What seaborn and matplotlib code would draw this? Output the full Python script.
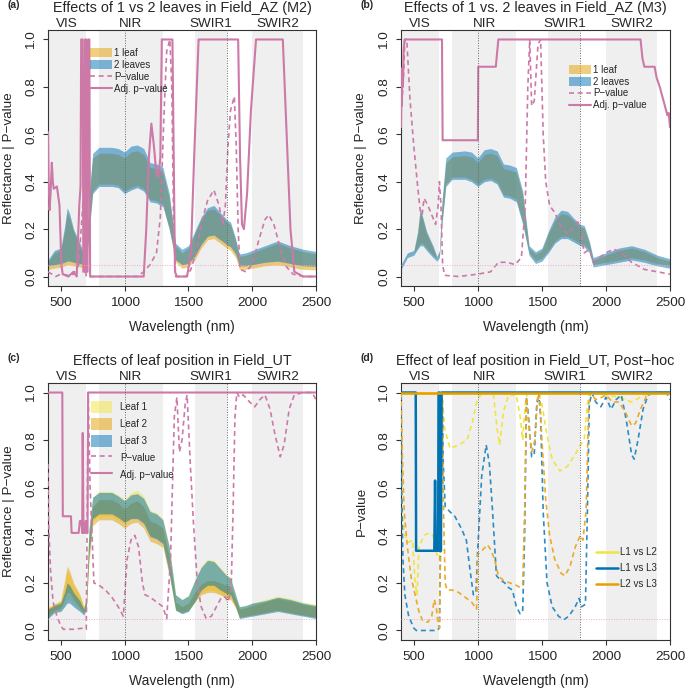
import numpy as np
import pandas as pd
import matplotlib
matplotlib.use('Agg')
import matplotlib.pyplot as plt
import seaborn as sns
from matplotlib.patches import Patch
from matplotlib.lines import Line2D

# ============================================================
# Data
# ============================================================
W = [400, 450, 500, 530, 550, 570, 600, 650, 680, 700,
     720, 750, 800, 900, 950, 1000, 1050, 1100, 1150, 1200,
     1250, 1300, 1350, 1400, 1450, 1500, 1550, 1600, 1650, 1700,
     1750, 1800, 1830, 1870, 1900, 1950, 2000, 2100, 2200, 2300,
     2400, 2500]

# ---- panel (a): Field_AZ M2 ----
A1_LO = [0.03, 0.035, 0.04, 0.045, 0.05, 0.05, 0.045, 0.04, 0.035, 0.05,
         0.18, 0.36, 0.39, 0.39, 0.385, 0.36, 0.375, 0.385, 0.37, 0.325,
         0.32, 0.305, 0.20, 0.06, 0.035, 0.04, 0.07, 0.12, 0.155, 0.16,
         0.14, 0.12, 0.11, 0.08, 0.03, 0.03, 0.035, 0.045, 0.05, 0.04,
         0.03, 0.028]
A1_HI = [0.06, 0.10, 0.11, 0.19, 0.27, 0.245, 0.19, 0.13, 0.09, 0.12,
         0.31, 0.50, 0.52, 0.52, 0.515, 0.50, 0.525, 0.53, 0.515, 0.46,
         0.455, 0.44, 0.33, 0.13, 0.10, 0.12, 0.18, 0.24, 0.28, 0.285,
         0.26, 0.23, 0.22, 0.15, 0.085, 0.09, 0.10, 0.12, 0.14, 0.12,
         0.105, 0.095]
A2_LO = [0.045, 0.05, 0.055, 0.06, 0.065, 0.065, 0.06, 0.055, 0.05, 0.065,
         0.17, 0.35, 0.38, 0.38, 0.375, 0.35, 0.365, 0.375, 0.36, 0.315,
         0.31, 0.295, 0.20, 0.07, 0.05, 0.055, 0.085, 0.135, 0.17, 0.175,
         0.155, 0.135, 0.125, 0.095, 0.045, 0.045, 0.05, 0.06, 0.065, 0.055,
         0.045, 0.043]
A2_HI = [0.07, 0.11, 0.12, 0.21, 0.29, 0.265, 0.20, 0.14, 0.10, 0.13,
         0.33, 0.52, 0.545, 0.545, 0.54, 0.525, 0.55, 0.555, 0.54, 0.48,
         0.475, 0.46, 0.35, 0.14, 0.115, 0.13, 0.19, 0.25, 0.29, 0.30,
         0.27, 0.24, 0.23, 0.16, 0.095, 0.10, 0.11, 0.13, 0.15, 0.13,
         0.115, 0.105]

PA_W = [400, 430, 460, 500, 560, 600, 640, 660, 675, 690, 700, 720, 1100, 1150,
        1200, 1250, 1280, 1310, 1330, 1355, 1370, 1385, 1400, 1480, 1520, 1560,
        1600, 1650, 1700, 1740, 1770, 1790, 1810, 1830, 1860, 1875, 1890, 1905,
        1950, 2000, 2050, 2100, 2130, 2170, 2220, 2270, 2320, 2400, 2500]
PA_P = [0.02, 0.01, 0.0, 0.01, 0.005, 0.01, 0.05, 0.20, 0.32, 0.05, 0.0, 0.0, 0.0, 0.02,
        0.05, 0.10, 0.25, 0.70, 0.95, 1.0, 0.80, 0.20, 0.0, 0.0, 0.03, 0.10,
        0.22, 0.32, 0.365, 0.30, 0.22, 0.30, 0.55, 0.70, 0.76, 0.55, 0.20, 0.03,
        0.02, 0.05, 0.15, 0.24, 0.26, 0.22, 0.12, 0.04, 0.01, 0.0, 0.0]
PA_ADJ_W = [400, 405, 412, 420, 430, 438, 445, 470, 490, 505, 515, 560, 600, 625,
            645, 655, 660, 672, 677, 685, 690, 698, 702, 710, 714, 724, 730, 1150,
            1170, 1190, 1210, 1230, 1250, 1265, 1280, 1292, 1375, 1395, 1410, 1490,
            1520, 1545, 1580, 1890, 1905, 1920, 1935, 1960, 1990, 2030, 2240, 2270,
            2300, 2330, 2400, 2500]
PA_ADJ = [0.61, 0.40, 0.28, 0.35, 0.48, 0.40, 0.37, 0.38, 0.30, 0.05, 0.01, 0.0, 0.02, 0.0,
          0.30, 0.38, 1.0, 1.0, 0.02, 0.02, 1.0, 1.0, 0.02, 0.02, 1.0, 1.0, 0.0, 0.0,
          0.20, 0.50, 0.645, 0.55, 0.43, 0.42, 0.50, 1.0, 1.0, 0.02, 0.0, 0.0,
          0.10, 0.50, 1.0, 1.0, 0.50, 0.22, 0.20, 0.35, 0.70, 1.0, 1.0, 0.60,
          0.20, 0.02, 0.0, 0.0]

# ---- panel (b): Field_AZ M3 ----
B1_LO = [0.042, 0.092, 0.10, 0.125, 0.14, 0.14, 0.12, 0.09, 0.077, 0.092,
         0.23, 0.39, 0.42, 0.42, 0.41, 0.39, 0.41, 0.415, 0.40, 0.345,
         0.34, 0.325, 0.23, 0.10, 0.067, 0.077, 0.11, 0.15, 0.17, 0.17,
         0.155, 0.14, 0.135, 0.11, 0.05, 0.055, 0.06, 0.07, 0.08, 0.07,
         0.055, 0.045]
B1_HI = [0.04, 0.09, 0.10, 0.18, 0.275, 0.24, 0.18, 0.12, 0.075, 0.10,
         0.30, 0.48, 0.505, 0.51, 0.505, 0.48, 0.515, 0.52, 0.51, 0.455,
         0.45, 0.44, 0.345, 0.12, 0.095, 0.11, 0.18, 0.235, 0.265, 0.26,
         0.235, 0.21, 0.205, 0.14, 0.07, 0.08, 0.09, 0.11, 0.12, 0.105,
         0.08, 0.065]
B2_LO = [0.03, 0.08, 0.09, 0.115, 0.13, 0.13, 0.11, 0.08, 0.065, 0.08,
         0.22, 0.38, 0.41, 0.41, 0.40, 0.38, 0.40, 0.405, 0.39, 0.335,
         0.33, 0.315, 0.22, 0.09, 0.055, 0.065, 0.10, 0.14, 0.16, 0.16,
         0.145, 0.13, 0.125, 0.10, 0.04, 0.045, 0.05, 0.06, 0.07, 0.06,
         0.045, 0.035]
B2_HI = [0.05, 0.10, 0.11, 0.19, 0.29, 0.25, 0.19, 0.13, 0.085, 0.11,
         0.32, 0.50, 0.525, 0.53, 0.525, 0.50, 0.535, 0.54, 0.53, 0.475,
         0.47, 0.46, 0.36, 0.13, 0.105, 0.12, 0.19, 0.25, 0.28, 0.275,
         0.245, 0.22, 0.215, 0.15, 0.08, 0.09, 0.10, 0.12, 0.13, 0.115,
         0.09, 0.075]

PB_W = [400, 410, 420, 430, 445, 470, 500, 530, 550, 565, 580, 610, 640, 670,
        690, 700, 712, 725, 740, 850, 1000, 1100, 1160, 1230, 1290, 1340, 1370,
        1390, 1405, 1420, 1440, 1470, 1490, 1510, 1530, 1560, 1600, 1650, 1700,
        1750, 1780, 1800, 1830, 1860, 1880, 1900, 1950, 2000, 2060, 2120, 2200,
        2300, 2400, 2500]
PB_P = [0.88, 0.75, 0.85, 1.0, 1.0, 0.75, 0.55, 0.38, 0.28, 0.26, 0.33, 0.30, 0.26, 0.22,
        0.30, 0.40, 0.30, 0.05, 0.005, 0.0, 0.01, 0.02, 0.06, 0.06, 0.05, 0.08, 0.30,
        0.80, 1.0, 0.72, 0.74, 0.98, 1.0, 0.60, 0.40, 0.30, 0.27, 0.21, 0.18,
        0.21, 0.23, 0.20, 0.10, 0.11, 0.10, 0.06, 0.08, 0.10, 0.115, 0.10, 0.06,
        0.03, 0.02, 0.01]
PB_ADJ_W = [400, 403, 406, 410, 415, 420, 428, 720, 725, 1000, 1003, 1140, 1160, 2270,
            2285, 2300, 2380, 2395, 2420, 2440, 2460, 2480, 2490, 2500]
PB_ADJ = [0.63, 0.75, 0.72, 0.88, 0.80, 0.95, 1.0, 1.0, 0.575, 0.575, 0.885, 0.885, 1.0, 1.0,
          0.92, 0.885, 0.885, 0.84, 0.80, 0.76, 0.72, 0.68, 0.69, 0.63]

# ---- panel (c): Field_UT, leaf position ----
C1_LO = [0.055, 0.08, 0.085, 0.11, 0.13, 0.13, 0.11, 0.085, 0.07, 0.09,
         0.30, 0.46, 0.48, 0.48, 0.465, 0.45, 0.47, 0.475, 0.455, 0.40,
         0.39, 0.37, 0.25, 0.09, 0.075, 0.085, 0.12, 0.16, 0.17, 0.17,
         0.155, 0.14, 0.135, 0.10, 0.055, 0.06, 0.065, 0.075, 0.085, 0.075,
         0.065, 0.055]
C1_HI = [0.10, 0.115, 0.125, 0.19, 0.25, 0.23, 0.19, 0.15, 0.10, 0.14,
         0.42, 0.56, 0.585, 0.585, 0.57, 0.55, 0.58, 0.59, 0.565, 0.505,
         0.495, 0.47, 0.36, 0.15, 0.13, 0.15, 0.21, 0.27, 0.30, 0.295,
         0.265, 0.235, 0.225, 0.15, 0.10, 0.105, 0.115, 0.13, 0.145, 0.135,
         0.12, 0.11]
C2_LO = [0.06, 0.085, 0.095, 0.13, 0.16, 0.16, 0.13, 0.095, 0.075, 0.095,
         0.28, 0.44, 0.465, 0.465, 0.45, 0.43, 0.45, 0.455, 0.43, 0.375,
         0.365, 0.35, 0.23, 0.085, 0.075, 0.085, 0.12, 0.15, 0.16, 0.16,
         0.15, 0.135, 0.13, 0.095, 0.055, 0.06, 0.065, 0.075, 0.085, 0.075,
         0.065, 0.055]
C2_HI = [0.095, 0.11, 0.125, 0.21, 0.27, 0.25, 0.20, 0.15, 0.10, 0.13,
         0.38, 0.52, 0.55, 0.55, 0.535, 0.51, 0.535, 0.545, 0.52, 0.46,
         0.45, 0.43, 0.31, 0.12, 0.10, 0.115, 0.16, 0.195, 0.21, 0.21,
         0.20, 0.19, 0.185, 0.13, 0.09, 0.095, 0.105, 0.12, 0.135, 0.125,
         0.11, 0.10]
C3_LO = [0.05, 0.075, 0.08, 0.10, 0.115, 0.115, 0.10, 0.08, 0.065, 0.085,
         0.31, 0.47, 0.49, 0.49, 0.475, 0.455, 0.47, 0.47, 0.45, 0.395,
         0.385, 0.365, 0.24, 0.085, 0.07, 0.08, 0.12, 0.17, 0.19, 0.19,
         0.17, 0.155, 0.15, 0.10, 0.05, 0.055, 0.06, 0.07, 0.08, 0.07,
         0.06, 0.05]
C3_HI = [0.09, 0.105, 0.115, 0.16, 0.20, 0.19, 0.16, 0.125, 0.09, 0.13,
         0.42, 0.56, 0.58, 0.58, 0.565, 0.545, 0.57, 0.575, 0.555, 0.50,
         0.49, 0.465, 0.35, 0.15, 0.13, 0.145, 0.21, 0.265, 0.295, 0.29,
         0.26, 0.23, 0.22, 0.15, 0.10, 0.105, 0.115, 0.125, 0.14, 0.13,
         0.115, 0.105]

PC_W = [400, 405, 420, 440, 470, 500, 520, 600, 680, 700, 715, 730, 760, 800,
        850, 900, 950, 990, 1020, 1050, 1080, 1110, 1140, 1160, 1200, 1250, 1300,
        1330, 1360, 1390, 1410, 1430, 1450, 1475, 1490, 1515, 1540, 1570, 1600,
        1640, 1680, 1720, 1760, 1790, 1810, 1835, 1850, 1865, 1880, 1900, 1930,
        1980, 2020, 2060, 2100, 2140, 2180, 2220, 2250, 2290, 2330, 2400, 2470,
        2500]
PC_P = [0.70, 0.45, 0.25, 0.12, 0.06, 0.02, 0.005, 0.005, 0.01, 0.005, 1.0, 0.60, 0.20, 0.19,
        0.17, 0.14, 0.10, 0.06, 0.30, 0.38, 0.40, 0.35, 0.20, 0.15, 0.14, 0.12, 0.10,
        0.05, 0.30, 0.90, 0.98, 0.75, 0.80, 0.95, 0.99, 0.70, 0.45, 0.20, 0.10,
        0.05, 0.06, 0.10, 0.14, 0.14, 0.12, 0.17, 0.50, 0.90, 1.0, 0.98, 0.99,
        0.96, 0.94, 0.97, 0.99, 0.93, 0.82, 0.73, 0.78, 0.93, 0.99, 1.0, 1.0,
        0.97]
PC_ADJ_W = [400, 512, 516, 580, 585, 640, 650, 662, 668, 672, 678, 690, 695, 700,
            705, 710, 714, 2500]
PC_ADJ = [1.0, 1.0, 0.48, 0.48, 0.41, 0.41, 0.46, 0.46, 0.41, 0.83, 0.41, 0.41, 0.46, 0.46,
          0.41, 0.41, 1.0, 1.0]

# ---- panel (d): post-hoc p-values ----
PD_ADJ12_W = [400, 2500]
PD_ADJ12 = [1.0, 1.0]
PD_ADJ23_W = [400, 2500]
PD_ADJ23 = [1.0, 1.0]
PD_ADJ13_W = [400, 515, 518, 660, 666, 672, 690, 693, 700, 703, 712, 716, 2500]
PD_ADJ13 = [1.0, 1.0, 0.335, 0.335, 0.63, 0.335, 0.335, 1.0, 1.0, 0.335, 0.335, 1.0, 1.0]

PD12_W = [400, 410, 430, 460, 490, 510, 525, 540, 580, 620, 650, 680, 700, 712,
          722, 740, 783, 850, 915, 960, 991, 1020, 1120, 1150, 1170, 1200, 1240,
          1300, 1330, 1350, 1370, 1385, 1470, 1500, 1540, 1580, 1640, 1700, 1760,
          1800, 1830, 1855, 1870, 2000, 2100, 2200, 2300, 2400, 2500]
PD12 = [0.99, 0.50, 0.40, 0.37, 0.38, 0.20, 0.15, 0.35, 0.40, 0.41, 0.40, 0.32, 0.30, 0.50,
        0.98, 0.85, 0.765, 0.78, 0.80, 0.88, 0.96, 0.99, 1.0, 0.85, 0.78, 0.92, 0.99,
        0.99, 0.90, 0.80, 0.95, 1.0, 1.0, 0.95, 0.82, 0.72, 0.67, 0.69, 0.74,
        0.78, 0.80, 0.95, 1.0, 0.99, 0.98, 0.96, 0.99, 1.0, 1.0]
PD13_W = [400, 405, 415, 430, 460, 500, 520, 680, 700, 712, 722, 730, 745, 780,
          820, 870, 910, 940, 965, 985, 1000, 1030, 1065, 1090, 1115, 1145, 1180,
          1210, 1240, 1270, 1300, 1330, 1350, 1365, 1380, 1395, 1420, 1440, 1460,
          1475, 1490, 1510, 1540, 1580, 1630, 1670, 1710, 1760, 1790, 1810, 1840,
          1855, 1870, 1890, 1920, 1960, 2000, 2040, 2080, 2120, 2160, 2200, 2220,
          2250, 2290, 2330, 2400, 2470, 2500]
PD13 = [0.99, 0.60, 0.30, 0.15, 0.06, 0.01, 0.0, 0.0, 0.01, 0.50, 0.98, 0.70, 0.52, 0.50,
        0.48, 0.43, 0.38, 0.25, 0.15, 0.16, 0.35, 0.65, 0.78, 0.70, 0.50, 0.23, 0.21,
        0.20, 0.18, 0.17, 0.10, 0.07, 0.08, 0.40, 0.98, 0.90, 0.73, 0.74, 0.95,
        1.0, 0.90, 0.50, 0.20, 0.10, 0.06, 0.045, 0.06, 0.10, 0.135, 0.10, 0.11,
        0.50, 0.95, 1.0, 0.96, 0.94, 0.98, 0.93, 0.97, 0.99, 0.88, 0.74, 0.72,
        0.80, 0.93, 0.99, 1.0, 1.0, 0.97]
PD23_W = [400, 410, 425, 450, 480, 510, 540, 570, 610, 640, 660, 675, 690, 700,
          712, 722, 732, 745, 760, 800, 850, 900, 950, 990, 1000, 1040, 1075, 1100,
          1130, 1160, 1200, 1250, 1300, 1330, 1350, 1365, 1380, 1400, 1420, 1445,
          1465, 1480, 1500, 1530, 1560, 1600, 1650, 1680, 1720, 1760, 1800, 1820,
          1845, 1865, 1880, 1920, 1970, 2000, 2050, 2100, 2150, 2200, 2230, 2270,
          2320, 2400, 2500]
PD23 = [1.0, 0.75, 0.50, 0.35, 0.22, 0.15, 0.08, 0.04, 0.035, 0.06, 0.13, 0.10, 0.02, 0.01,
        0.50, 0.99, 0.50, 0.20, 0.17, 0.17, 0.16, 0.14, 0.12, 0.09, 0.32, 0.34, 0.36, 0.34,
        0.30, 0.23, 0.21, 0.20, 0.19, 0.18, 0.19, 0.50, 0.98, 0.85, 0.75, 0.80,
        0.97, 1.0, 0.80, 0.55, 0.40, 0.30, 0.24, 0.23, 0.27, 0.35, 0.40, 0.38,
        0.50, 0.95, 1.0, 0.97, 0.98, 0.99, 0.96, 0.96, 0.92, 0.86, 0.87, 0.93,
        0.99, 1.0, 1.0]

REGIONS = [(400, 700), (800, 1300), (1550, 1800), (2000, 2400)]
REGION_NAMES = ['VIS', 'NIR', 'SWIR1', 'SWIR2']
REGION_MIDS = [550, 1050, 1675, 2200]

# ============================================================
# Style
# ============================================================
PINK = '#CC79A7'
ORANGE = '#E69F00'
BLUE = '#0072B2'
YELLOW = '#F0E442'
SHADE = '#EFEFEF'
DASH = (0, (3.0, 2.2))

sns.set_style('ticks')
plt.rcParams['font.family'] = ['Liberation Sans', 'DejaVu Sans']
plt.rcParams['axes.linewidth'] = 0.8
plt.rcParams['xtick.major.width'] = 0.8
plt.rcParams['ytick.major.width'] = 0.8


def setup_axes(ax, title, tag, ylabel):
    ax.set_facecolor('white')
    for lo, hi in REGIONS:
        ax.axvspan(lo, hi, color=SHADE, lw=0, zorder=0)
    ax.set_xlim(400, 2500)
    ax.set_ylim(-0.04, 1.04)
    ax.set_xticks([500, 1000, 1500, 2000, 2500])
    ax.set_xticklabels(['500', '1000', '1500', '2000', '2500'], fontsize=9.7)
    ax.set_yticks([0.0, 0.2, 0.4, 0.6, 0.8, 1.0])
    ax.set_yticklabels(['0.0', '0.2', '0.4', '0.6', '0.8', '1.0'],
                       rotation=90, va='center', fontsize=9.7)
    ax.tick_params(axis='both', length=3.6, color='#333333')
    ax.tick_params(axis='x', pad=4)
    ax.tick_params(axis='y', pad=4)
    for s in ax.spines.values():
        s.set_visible(True)
        s.set_color('#333333')
    ax.set_xlabel('Wavelength (nm)', fontsize=10, labelpad=8)
    ax.set_ylabel(ylabel, fontsize=9.7)
    ax.yaxis.set_label_coords(-0.125, 0.5)
    ax.text(0.5, 1.07, title, transform=ax.transAxes, ha='center',
            va='baseline', fontsize=10.4)
    trans = matplotlib.transforms.blended_transform_factory(ax.transData, ax.transAxes)
    for name, mid in zip(REGION_NAMES, REGION_MIDS):
        ax.text(mid, 1.013, name, transform=trans, ha='center', va='baseline',
                fontsize=9.7)
    ax.text(-0.15, 1.085, tag, transform=ax.transAxes, ha='left',
            va='baseline', fontsize=7.5, fontweight='bold')


def guides(ax):
    ax.axvline(1000, color='#666666', ls=(0, (1, 1.6)), lw=0.7, zorder=4)
    ax.axvline(1800, color='#666666', ls=(0, (1, 1.6)), lw=0.7, zorder=4)
    ax.axhline(0.05, color='#E9A8CB', ls=(0, (1, 1.6)), lw=0.7, zorder=4)


def band(ax, lo, hi, color):
    ax.fill_between(W, lo, hi, color=color, alpha=0.5, lw=0, zorder=1)


def pline(ax, x, y, color, ls, lw):
    sns.lineplot(x=x, y=y, ax=ax, color=color, linestyle=ls, lw=lw,
                 estimator=None, sort=False, zorder=3)


fig = plt.figure(figsize=(6.85, 6.88), dpi=100)
axA = fig.add_axes([48 / 685, 1 - 286 / 688, 268 / 685, 256 / 688])
axB = fig.add_axes([401 / 685, 1 - 286 / 688, 269 / 685, 256 / 688])
axC = fig.add_axes([48 / 685, 1 - 640 / 688, 268 / 685, 257 / 688])
axD = fig.add_axes([401 / 685, 1 - 640 / 688, 269 / 685, 257 / 688])

# ---- (a) ----
setup_axes(axA, 'Effects of 1 vs 2 leaves in Field_AZ (M2)', '(a)',
           'Reflectance | P\u2212value')
band(axA, A1_LO, A1_HI, ORANGE)
band(axA, A2_LO, A2_HI, BLUE)
pline(axA, PA_W, PA_P, PINK, DASH, 1.2)
pline(axA, PA_ADJ_W, PA_ADJ, PINK, '-', 1.5)
guides(axA)

# ---- (b) ----
setup_axes(axB, 'Effects of 1 vs. 2 leaves in Field_AZ (M3)', '(b)',
           'Reflectance | P\u2212value')
band(axB, B1_LO, B1_HI, ORANGE)
band(axB, B2_LO, B2_HI, BLUE)
pline(axB, PB_W, PB_P, PINK, DASH, 1.2)
pline(axB, PB_ADJ_W, PB_ADJ, PINK, '-', 1.5)
guides(axB)

# ---- (c) ----
setup_axes(axC, 'Effects of leaf position in Field_UT', '(c)',
           'Reflectance | P\u2212value')
band(axC, C1_LO, C1_HI, YELLOW)
band(axC, C2_LO, C2_HI, ORANGE)
band(axC, C3_LO, C3_HI, BLUE)
pline(axC, PC_W, PC_P, PINK, DASH, 1.2)
pline(axC, PC_ADJ_W, PC_ADJ, PINK, '-', 1.5)
guides(axC)

# ---- (d) ----
setup_axes(axD, 'Effect of leaf position in Field_UT, Post\u2212hoc', '(d)',
           'P\u2212value')
pline(axD, PD12_W, PD12, YELLOW, DASH, 1.2)
pline(axD, PD13_W, PD13, '#2B8CC4', DASH, 1.2)
pline(axD, PD23_W, PD23, '#EBAA2A', DASH, 1.2)
pline(axD, PD_ADJ12_W, PD_ADJ12, YELLOW, '-', 1.8)
pline(axD, PD_ADJ13_W, PD_ADJ13, BLUE, '-', 1.8)
pline(axD, PD_ADJ23_W, PD_ADJ23, ORANGE, '-', 1.8)
guides(axD)

# ---- legends ----
def pinks():
    return [Line2D([], [], color=PINK, ls=DASH, lw=1.2),
            Line2D([], [], color=PINK, ls='-', lw=1.5)]

leg_kw = dict(frameon=False, fontsize=7, handlelength=2.3, handletextpad=0.2,
              borderpad=0, borderaxespad=0, loc='upper left')

axA.legend([Patch(facecolor=ORANGE, alpha=0.5, lw=0), Patch(facecolor=BLUE, alpha=0.5, lw=0)]
           + pinks(), ['1 leaf', '2 leaves', 'P\u2212value', 'Adj. p\u2212value'],
           bbox_to_anchor=(0.155, 0.93), labelspacing=0.2, handleheight=1.0, **leg_kw)
axB.legend([Patch(facecolor=ORANGE, alpha=0.5, lw=0), Patch(facecolor=BLUE, alpha=0.5, lw=0)]
           + pinks(), ['1 leaf', '2 leaves', 'P\u2212value', 'Adj. p\u2212value'],
           bbox_to_anchor=(0.625, 0.865), labelspacing=0.2, handleheight=1.0, **leg_kw)
axC.legend([Patch(facecolor=YELLOW, alpha=0.5, lw=0), Patch(facecolor=ORANGE, alpha=0.5, lw=0),
            Patch(facecolor=BLUE, alpha=0.5, lw=0)] + pinks(),
           ['Leaf 1', 'Leaf 2', 'Leaf 3', 'P\u2212value', 'Adj. p\u2212value'],
           bbox_to_anchor=(0.16, 0.93), labelspacing=0.45, handleheight=1.6,
           **dict(leg_kw, handletextpad=0.8, handlelength=2.2))
axD.legend([Line2D([], [], color=YELLOW, lw=1.8), Line2D([], [], color=BLUE, lw=1.8),
            Line2D([], [], color=ORANGE, lw=1.8)], ['L1 vs L2', 'L1 vs L3', 'L2 vs L3'],
           bbox_to_anchor=(0.725, 0.36), labelspacing=0.6, **leg_kw)

plt.savefig('out.png', dpi=100)
plt.close()
